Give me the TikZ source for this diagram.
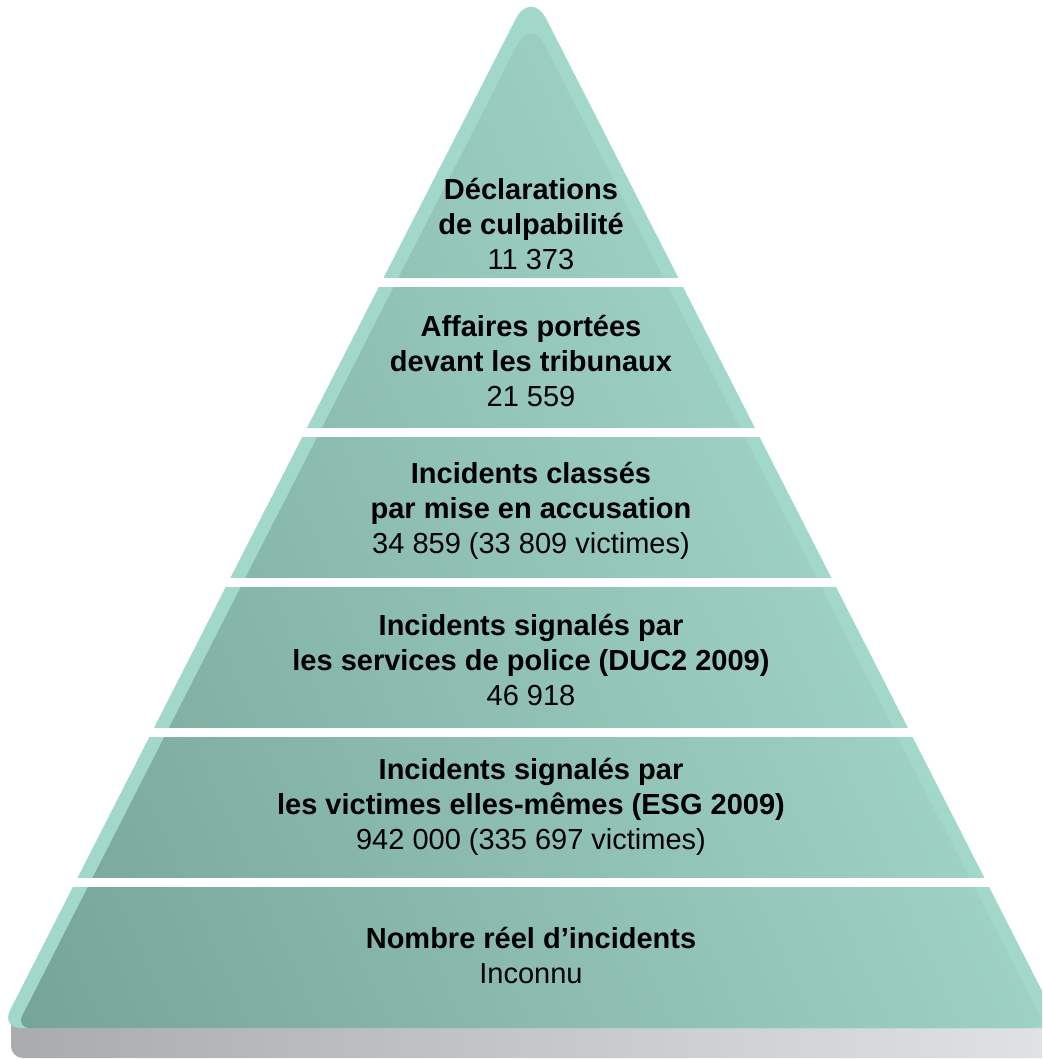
\documentclass[tikz,border=0pt]{standalone}
\usepackage{fontspec}
\setmainfont{Liberation Sans}
\begin{document}
\begin{tikzpicture}[x=1pt,y=-1pt]
\definecolor{strip}{RGB}{162,216,202}
\definecolor{pdark}{RGB}{118,163,151}
\definecolor{plight}{RGB}{158,210,196}
\definecolor{shleft}{RGB}{170,171,174}
\definecolor{shright}{RGB}{226,227,228}
\tikzset{lbl/.style={align=center, inner sep=0pt, font=\fontsize{29}{35}\selectfont, text=black}}
\useasboundingbox (0,0) rectangle (1042,1059);
\begin{scope}
\clip (0,0) rectangle (1042,1059);
% shadow
\shade[left color=shleft, right color=shright, rounded corners=12] (11,1000) rectangle (1075,1058);
% outer pyramid
\fill[strip] (266,508) [rounded corners=34] -- (531,-11) [rounded corners=20] -- (1061,1028) -- (1,1028) -- cycle;
% inner shaded pyramid
\begin{scope}
\clip (281,508) [rounded corners=30] -- (531,18) [rounded corners=14] -- (1046,1028) -- (16,1028) -- cycle;
\begin{scope}[transform canvas={rotate=24}]
\shade[left color=pdark, right color=plight] (-417,-2000) rectangle (551,2000);
\end{scope}
\end{scope}
% gaps
\foreach \g in {278,428,578,728,878}
  \fill[white] (0,\g) rectangle (1042,\g+9);
\end{scope}
% labels
\node[lbl] (t1) at (531,224) {\textbf{Déclarations}\\\textbf{de culpabilité}\\11 373};
\node[lbl] (t2) at (531,361) {\textbf{Affaires portées}\\\textbf{devant les tribunaux}\\21 559};
\node[lbl] (t3) at (531,511) {\textbf{Incidents classés}\\\textbf{par mise en accusation}\\34 859 (33 809 victimes)};
\node[lbl] (t4) at (531,660) {\textbf{Incidents signalés par}\\\textbf{les services de police (DUC2 2009)}\\46 918};
\node[lbl] (t5) at (531,807) {\textbf{Incidents signalés par}\\\textbf{les victimes elles-mêmes (ESG 2009)}\\942 000 (335 697 victimes)};
\node[lbl] (t6) at (531,955) {\textbf{Nombre réel d’incidents}\\Inconnu};
\end{tikzpicture}
\end{document}
